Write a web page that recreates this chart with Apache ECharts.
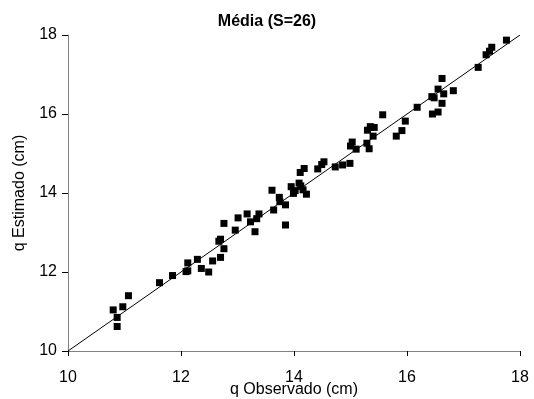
<!DOCTYPE html>
<html>
<head>
<meta charset="utf-8">
<script src="https://cdn.jsdelivr.net/npm/echarts@6/dist/echarts.min.js"></script>
<style>html,body{margin:0;padding:0;background:#fff;}#c{width:534px;height:399px;}</style>
</head>
<body>
<div id="c"></div>
<script>
var titleText = 'Média (S=26)';
var xName = 'q Observado (cm)';
var yName = 'q Estimado (cm)';
var axisMin = 10, axisMax = 18, axisStep = 2;

var observed = [10.80,10.87,10.87,10.97,11.07,11.62,11.85,12.09,12.12,12.12,12.29,12.36,12.49,12.56,12.67,12.70,12.70,12.76,12.76,12.96,13.01,
  13.17,13.23,13.31,13.34,13.38,13.61,13.64,13.74,13.75,13.85,13.85,13.95,13.99,14.02,14.09,14.12,14.16,14.22,14.11,14.18,
  14.42,14.49,14.53,14.73,14.86,14.99,15.00,15.03,15.10,15.29,15.33,15.30,15.35,15.42,15.40,15.57,15.81,15.91,15.97,
  16.18,16.45,16.55,16.62,16.44,16.48,16.55,16.65,16.82,16.62,17.26,17.40,17.46,17.50,17.76];
var estimated = [11.04,10.85,10.62,11.12,11.40,11.73,11.91,12.01,12.03,12.23,12.32,12.09,12.00,12.28,12.78,12.83,12.37,12.59,13.23,13.06,13.37,
  13.47,13.27,13.02,13.35,13.47,14.07,13.57,13.89,13.78,13.70,13.19,14.16,13.99,14.06,14.25,14.18,14.08,13.97,14.52,14.62,
  14.61,14.72,14.79,14.66,14.71,14.75,15.19,15.29,15.11,15.26,15.12,15.59,15.68,15.66,15.44,15.98,15.44,15.58,15.82,
  16.17,16.00,16.05,16.27,16.44,16.41,16.63,16.51,16.59,16.90,17.18,17.50,17.59,17.69,17.87];
var lineX = [10, 18];
var lineY = [10, 18];

var pts = observed.map(function(v, i){ return [v, estimated[i]]; });
var linePts = lineX.map(function(v, i){ return [v, lineY[i]]; });

var font = 'Liberation Sans, Arial, sans-serif';
var chart = echarts.init(document.getElementById('c'), null, {renderer:'canvas'});
chart.setOption({
  animation:false,
  backgroundColor:'#fff',
  title:{text:titleText, left:'center', top:14, padding:0,
    textStyle:{fontFamily:font, fontSize:16, fontWeight:'bold', color:'#000'}},
  grid:{left:68, right:14, top:35, bottom:48, containLabel:false, outerBoundsMode:'none'},
  xAxis:{type:'value', min:axisMin, max:axisMax, interval:axisStep,
    name:xName, nameLocation:'middle', nameGap:31, nameMoveOverlap:false,
    nameTextStyle:{fontFamily:font, fontSize:16, color:'#000'},
    axisLine:{show:true, lineStyle:{color:'#808080', width:1}},
    axisTick:{show:true, inside:false, length:5, lineStyle:{color:'#000'}},
    axisLabel:{fontFamily:font, fontSize:16, color:'#000', margin:19},
    splitLine:{show:false}},
  yAxis:{type:'value', min:axisMin, max:axisMax, interval:axisStep,
    name:yName, nameLocation:'middle', nameGap:40, nameMoveOverlap:false,
    nameTextStyle:{fontFamily:font, fontSize:16, color:'#000'},
    axisLine:{show:true, lineStyle:{color:'#808080', width:1}},
    axisTick:{show:true, inside:false, length:6, lineStyle:{color:'#000'}},
    axisLabel:{fontFamily:font, fontSize:16, color:'#000', margin:11},
    splitLine:{show:false}},
  series:[
    {type:'scatter', data:pts, symbol:'rect', symbolSize:7,
     itemStyle:{color:'#000', opacity:1}, z:2},
    {type:'line', data:linePts, showSymbol:false, symbol:'none',
     lineStyle:{color:'#000', width:1}, z:3}
  ]
});
</script>
</body>
</html>
